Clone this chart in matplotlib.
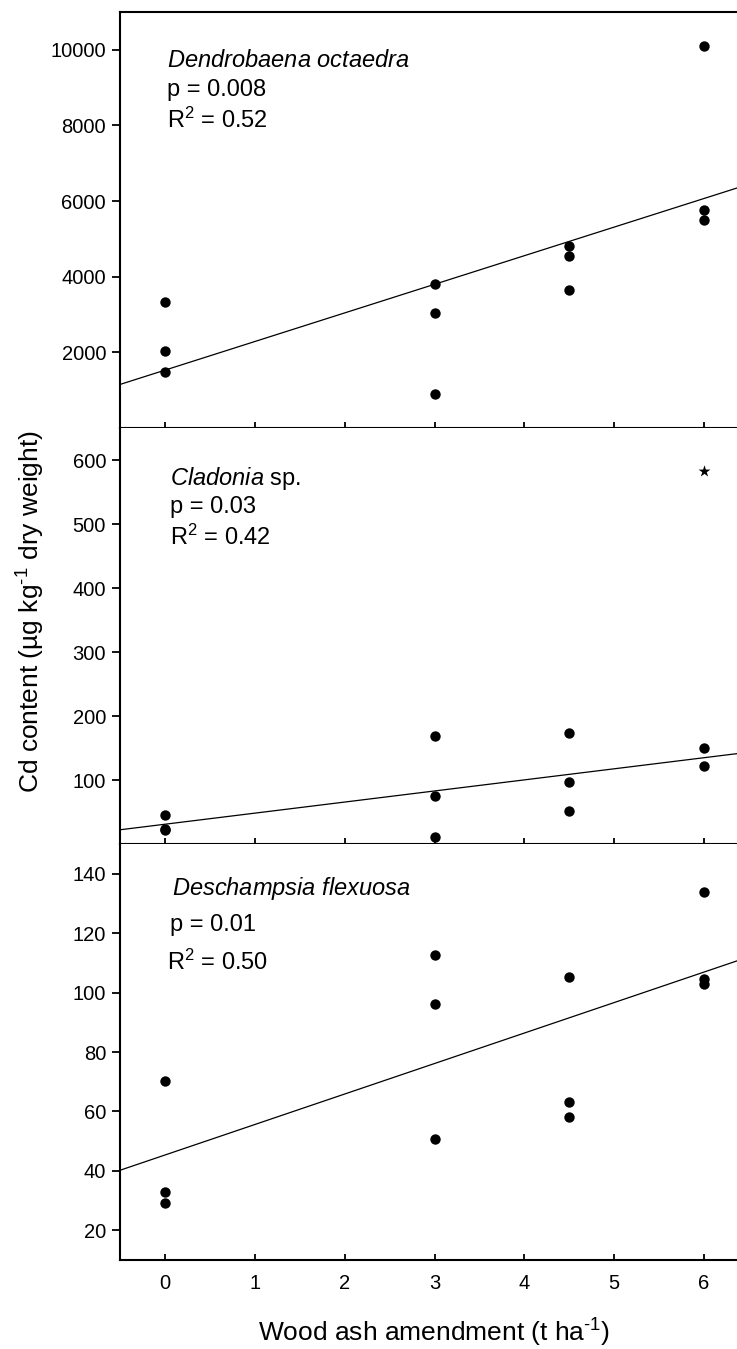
import numpy as np
import matplotlib
matplotlib.use("Agg")
import matplotlib.pyplot as plt

plt.rcParams['font.family'] = ['Liberation Sans', 'DejaVu Sans']
plt.rcParams['mathtext.fontset'] = 'custom'
plt.rcParams['mathtext.rm'] = 'Liberation Sans'
plt.rcParams['mathtext.it'] = 'Liberation Sans:italic'
plt.rcParams['mathtext.default'] = 'regular'

# wood ash dose (t/ha)
ash_dend = [0, 0, 0, 3, 3, 3, 4.5, 4.5, 4.5, 6, 6, 6]
cd_dend = [3325, 2044, 1485, 3812, 3054, 910, 4815, 4535, 3639, 10112, 5756, 5511]

ash_clad = [0, 0, 0, 3, 3, 3, 4.5, 4.5, 4.5, 6, 6]
cd_clad = [45.5, 23.7, 22.5, 168, 74.6, 10.7, 173.2, 96.4, 51.2, 150.3, 121.3]
# outlier, not used in regression
ash_clad_out = [6]
cd_clad_out = [583]

ash_desc = [0, 0, 0, 3, 3, 3, 4.5, 4.5, 4.5, 6, 6, 6]
cd_desc = [70.4, 32.8, 29.3, 112.5, 96.0, 50.8, 105.4, 63.1, 58.1, 133.9, 104.5, 102.8]

x_ticks = [0, 1, 2, 3, 4, 5, 6]
y_ticks_dend = [2000, 4000, 6000, 8000, 10000]
y_ticks_clad = [100, 200, 300, 400, 500, 600]
y_ticks_desc = [20, 40, 60, 80, 100, 120, 140]

panels = [
    (ash_dend, cd_dend, (0, 11000), y_ticks_dend,
     [r'$\it{Dendrobaena\ octaedra}$', 'p = 0.008', 'R$^{2}$ = 0.52']),
    (ash_clad, cd_clad, (0, 650), y_ticks_clad,
     [r'$\it{Cladonia}$ sp.', 'p = 0.03', 'R$^{2}$ = 0.42']),
    (ash_desc, cd_desc, (10, 150), y_ticks_desc,
     [r'$\it{Deschampsia\ flexuosa}$', 'p = 0.01', 'R$^{2}$ = 0.50']),
]

W, H = 737, 1349
fig = plt.figure(figsize=(W / 100, H / 100), dpi=100)

left = 120 / W
width = 629 / W
ph = 416 / H
tops = [12, 428, 844]
# text y positions (px from top) for each panel's three lines
text_y = [[61, 90, 120], [479, 507, 537], [889, 925, 962]]
text_x = [[167, 167, 167], [170, 170, 170], [172, 170, 167]]

for i, (xs, ys, ylim, yt, lines) in enumerate(panels):
    bottom = 1 - (tops[i] + 416) / H
    ax = fig.add_axes([left, bottom, width, ph])
    ax.scatter(xs, ys, s=56, color='black', zorder=3, linewidths=0)
    if i == 1:
        ax.scatter(ash_clad_out, cd_clad_out, marker='*', s=80, color='black',
                   zorder=3, linewidths=0)
    k, b = np.polyfit(xs, ys, 1)
    xx = np.array([-0.5, 6.5])
    ax.plot(xx, k * xx + b, color='black', lw=0.9)
    ax.set_xlim(-0.5, 6.5)
    ax.set_ylim(*ylim)
    ax.set_xticks(x_ticks)
    ax.set_yticks(yt)
    ax.tick_params(axis='x', direction='in', length=4.5, width=1.3, labelsize=14.5, pad=10)
    ax.tick_params(axis='y', direction='out', length=6, width=1.3, labelsize=14.5, pad=4)
    if i < 2:
        ax.tick_params(axis='x', labelbottom=False)
    for side in ['left', 'bottom', 'top']:
        ax.spines[side].set_linewidth(1.5)
    ax.spines['right'].set_visible(False)
    if i > 0:
        ax.spines['top'].set_visible(False)
    for j, t in enumerate(lines):
        fig.text(text_x[i][j] / W, 1 - text_y[i][j] / H, t, fontsize=17,
                 ha='left', va='center')

fig.text(434 / W, 1 - 1333 / H, 'Wood ash amendment (t ha$^{\u2010 1}$)',
         fontsize=19, ha='center', va='center')
fig.text(31 / W, 1 - 612 / H, 'Cd content (\u00b5g kg$^{\u2010 1}$ dry weight)',
         fontsize=19, ha='center', va='center', rotation=90)

fig.savefig('out.png', dpi=100)
